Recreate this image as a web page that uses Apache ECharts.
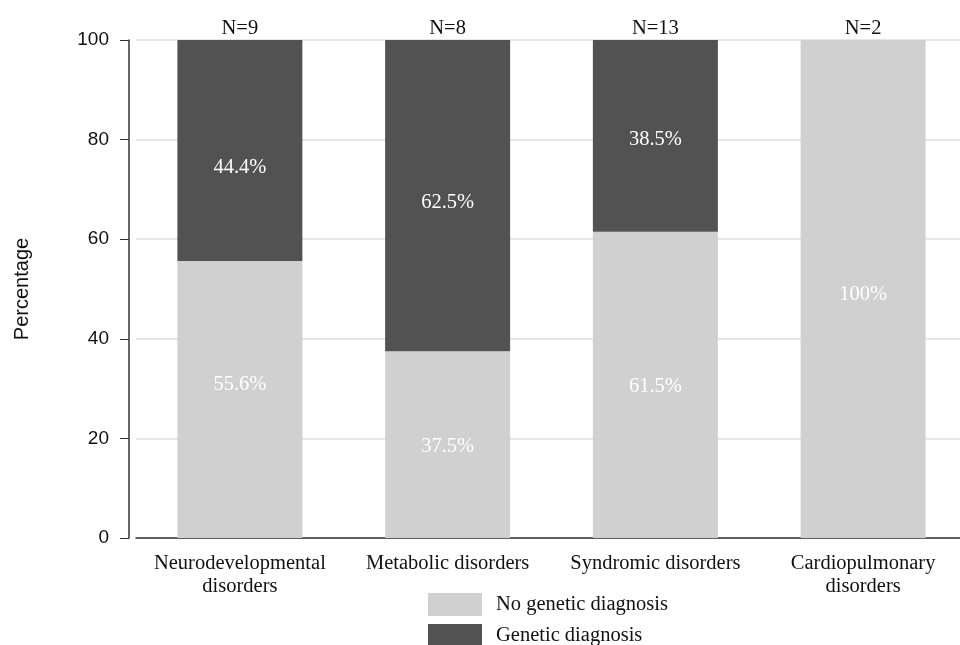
<!DOCTYPE html>
<html>
<head>
<meta charset="utf-8">
<script src="https://cdn.jsdelivr.net/npm/echarts@6/dist/echarts.min.js"></script>
<style>html,body{margin:0;padding:0;background:#fff}#c{width:960px;height:645px}</style>
</head>
<body>
<div id="c"></div>
<script>
const categories = ['Neurodevelopmental\ndisorders', 'Metabolic disorders', 'Syndromic disorders', 'Cardiopulmonary\ndisorders'];
const noGenetic = [55.6, 37.5, 61.5, 100];
const genetic = [44.4, 62.5, 38.5, 0];
const nValues = [9, 8, 13, 2];
const yTicks = [0, 20, 40, 60, 80, 100];

// label nudges (style only, pixels)
const noLabelShift = [-15, 2, 2, 6];
const genLabelShift = [17, 7, 4, 0];

const serif = '"Liberation Serif", "DejaVu Serif", serif';
const sans = '"Liberation Sans", Arial, sans-serif';

const chart = echarts.init(document.getElementById('c'));
chart.setOption({
  animation: false,
  backgroundColor: '#fff',
  grid: { left: 136, width: 831, top: 40, height: 498, containLabel: false, outerBoundsMode: 'none' },
  legend: {
    orient: 'vertical', left: 428, top: 593, height: 60, padding: 0,
    itemWidth: 54, itemHeight: 23, itemGap: 8,
    icon: 'rect',
    data: ['No genetic diagnosis', 'Genetic diagnosis'],
    textStyle: { fontFamily: serif, fontSize: 20.5, color: '#111', padding: [0, 0, 0, 9] }
  },
  xAxis: {
    type: 'category', data: categories,
    axisLine: { show: true, lineStyle: { color: '#333', width: 1.5 } },
    axisTick: { show: false },
    axisLabel: { fontFamily: serif, fontSize: 20.5, color: '#111', margin: 14, lineHeight: 23, interval: 0 }
  },
  yAxis: {
    type: 'value', min: yTicks[0], max: yTicks[yTicks.length - 1], interval: 20, offset: 7,
    name: 'Percentage', nameLocation: 'middle', nameGap: 97, nameRotate: 90,
    nameTextStyle: { fontFamily: sans, fontSize: 20, color: '#111' },
    axisLine: { show: true, lineStyle: { color: '#333', width: 1.5 } },
    axisTick: { show: true, length: 9, lineStyle: { color: '#333' } },
    axisLabel: { fontFamily: sans, fontSize: 19, color: '#111', margin: 20 },
    splitLine: { show: true, lineStyle: { color: '#dedede', width: 1.5 } }
  },
  series: [
    {
      name: 'No genetic diagnosis', type: 'bar', stack: 's', barWidth: 125,
      data: noGenetic.map((v, i) => ({ value: v, label: { offset: [0, noLabelShift[i]] } })),
      itemStyle: { color: '#d0d0d0' },
      label: { show: true, position: 'inside', fontFamily: serif, fontSize: 20.5, color: '#fff',
        formatter: p => p.value === 100 ? '100%' : p.value.toFixed(1) + '%' }
    },
    {
      name: 'Genetic diagnosis', type: 'bar', stack: 's', barWidth: 125,
      data: genetic.map((v, i) => ({ value: v, label: { offset: [0, genLabelShift[i]] } })),
      itemStyle: { color: '#525252' },
      label: { show: true, position: 'inside', fontFamily: serif, fontSize: 20.5, color: '#fff',
        formatter: p => p.value ? p.value.toFixed(1) + '%' : '' }
    },
    {
      name: 'N', type: 'bar', stack: 's', barWidth: 125,
      data: nValues.map(() => 0),
      itemStyle: { color: 'transparent' },
      label: { show: true, position: 'top', distance: 1, fontFamily: serif, fontSize: 20.5, color: '#111',
        formatter: p => 'N=' + nValues[p.dataIndex] }
    }
  ]
});
</script>
</body>
</html>
